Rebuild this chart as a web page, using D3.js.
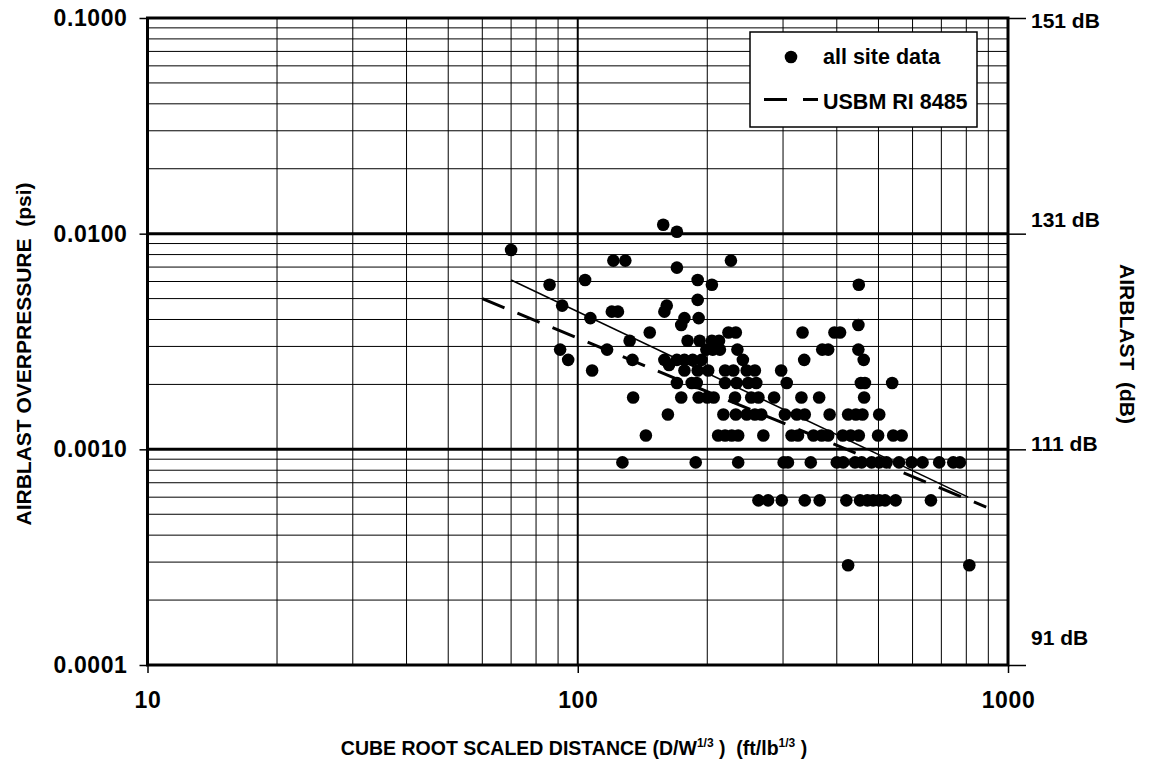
<!DOCTYPE html>
<html>
<head>
<meta charset="utf-8">
<script src="https://cdn.jsdelivr.net/npm/d3@7"></script>
<style>
  html, body { margin: 0; padding: 0; background: #fff; }
  svg text { font-family: "Liberation Sans", Arial, sans-serif; font-weight: bold; fill: #000; white-space: pre; }
</style>
</head>
<body>
<script>
// ---------------- DATA ----------------
// Overpressure levels (psi) and the scaled distances (ft/lb^1/3) of the points at each level
const levelPsi = [0.011, 0.0102, 0.0084, 0.0075, 0.00696, 0.0061, 0.0058, 0.00493, 0.00464, 0.00435,
  0.00406, 0.00377, 0.00348, 0.00319, 0.0029, 0.0026, 0.00246, 0.00232, 0.00203, 0.00174,
  0.00145, 0.00116, 0.00087, 0.00058, 0.00029];
const levelDistances = [
  [158],
  [170],
  [70],
  [121, 129, 227],
  [170],
  [104, 190],
  [86, 205, 450],
  [190],
  [92, 161],
  [120, 124, 159],
  [107, 177, 191],
  [174, 449],
  [147, 224, 233, 333, 395, 407],
  [132, 180, 192, 205, 213],
  [91, 117, 199, 206, 214, 235, 370, 382, 449],
  [95, 134, 159, 170, 177, 185, 194, 242, 336, 462],
  [163],
  [108, 177, 190, 201, 220, 230, 247, 258, 297],
  [170, 184, 189, 220, 234, 249, 260, 306, 455, 465, 538],
  [134.5, 174, 191, 200, 207, 232, 253, 263, 286, 331, 364, 463],
  [162, 218, 233, 247, 258, 267, 303, 323, 337, 385, 425, 443, 459, 502],
  [144, 212, 220, 228, 236, 270, 314, 325, 353, 369, 382, 413, 431, 450, 499, 541, 566],
  [127, 188, 236, 301, 308, 348, 400, 414, 441, 457, 482, 502, 522, 558, 597, 633, 692, 746, 773],
  [263, 277, 298, 337, 365, 421, 453, 471, 486, 502, 518, 548, 662],
  [425, 813]
];
// Site regression line and USBM RI 8485 line (end points)
const siteFitD = [70, 808];
const siteFitP = [0.0061, 0.0006];
const usbmD = [60, 890];
const usbmP = [0.005, 0.00054];

// Axis ticks and labels
const xTicks = [10, 100, 1000];
const xTickLabels = ["10", "100", "1000"];
const yTicks = [0.1, 0.01, 0.001, 0.0001];
const yTickLabels = ["0.1000", "0.0100", "0.0010", "0.0001"];
const dbLabels = ["151 dB", "131 dB", "111 dB", "91 dB"];
const legendLabels = ["all site data", "USBM RI 8485"];

// ---------------- LAYOUT ----------------
const W = 1149, H = 769;
const L = 147.5, R = 1008, T = 18, B = 665;
const dbNudge = [3, -14, -6, -27]; // vertical offsets of the dB labels from their ticks

const svg = d3.select("body").append("svg").attr("width", W).attr("height", H);

const x = d3.scaleLog().domain([10, 1000]).range([L, R]);
const y = d3.scaleLog().domain([0.0001, 0.1]).range([B, T]);

// minor grid
const grid = svg.append("g");
grid.selectAll("line.vx").data(x.ticks().filter(d => d > 10 && d < 1000 && d !== 100))
  .join("line").attr("x1", d => x(d)).attr("x2", d => x(d)).attr("y1", T).attr("y2", B)
  .attr("stroke", "#000").attr("stroke-width", 1);
grid.selectAll("line.hy").data(y.ticks().filter(d => yTicks.indexOf(d) < 0 && d > 0.0001 && d < 0.1))
  .join("line").attr("x1", L).attr("x2", R).attr("y1", d => y(d)).attr("y2", d => y(d))
  .attr("stroke", "#000").attr("stroke-width", 1);
// major grid
grid.append("line").attr("x1", x(100)).attr("x2", x(100)).attr("y1", T).attr("y2", B)
  .attr("stroke", "#000").attr("stroke-width", 2);
grid.selectAll("line.major").data([0.01, 0.001]).join("line")
  .attr("x1", L).attr("x2", R).attr("y1", d => y(d)).attr("y2", d => y(d))
  .attr("stroke", "#000").attr("stroke-width", 3);

// data points
const pts = [];
levelPsi.forEach((p, i) => levelDistances[i].forEach(d => pts.push([d, p])));
svg.append("g").selectAll("circle").data(pts).join("circle")
  .attr("cx", d => x(d[0])).attr("cy", d => y(d[1])).attr("r", 6.3).attr("fill", "#000");

// fit lines
const line = d3.line().x(d => x(d[0])).y(d => y(d[1]));
svg.append("path").datum(siteFitD.map((d, i) => [d, siteFitP[i]])).attr("d", line)
  .attr("fill", "none").attr("stroke", "#000").attr("stroke-width", 1.5);
svg.append("path").datum(usbmD.map((d, i) => [d, usbmP[i]])).attr("d", line)
  .attr("fill", "none").attr("stroke", "#000").attr("stroke-width", 3).attr("stroke-dasharray", "24,14");

// plot border
svg.append("rect").attr("x", L).attr("y", T).attr("width", R - L).attr("height", B - T)
  .attr("fill", "none").attr("stroke", "#000").attr("stroke-width", 3);

// axes
const axL = svg.append("g").attr("transform", `translate(${L},0)`)
  .call(d3.axisLeft(y).tickValues(yTicks).tickFormat((d, i) => yTickLabels[i]).tickSize(8).tickPadding(12));
const axR = svg.append("g").attr("transform", `translate(${R},0)`)
  .call(d3.axisRight(y).tickValues(yTicks).tickFormat((d, i) => dbLabels[i]).tickSize(18).tickPadding(5));
const axB = svg.append("g").attr("transform", `translate(0,${B})`)
  .call(d3.axisBottom(x).tickValues(xTicks).tickFormat((d, i) => xTickLabels[i]).tickSize(8).tickPadding(19));
[axL, axR, axB].forEach(a => {
  a.attr("font-family", null).attr("font-size", null);
  a.select(".domain").remove();
  a.selectAll(".tick line").attr("stroke", "#000").attr("stroke-width", 1.5);
});
axL.selectAll("text").style("font-size", "23px").attr("letter-spacing", "0.6");
axB.selectAll("text").style("font-size", "23px").attr("letter-spacing", "0.6");
axR.selectAll("text").style("font-size", "21px").attr("transform", (d, i) => `translate(0,${dbNudge[i]})`);

// axis titles
svg.append("text").attr("transform", `translate(31,354) rotate(-90)`).attr("text-anchor", "middle")
  .style("font-size", "21px").text("AIRBLAST OVERPRESSURE  (psi)");
svg.append("text").attr("transform", `translate(1120,344) rotate(90)`).attr("text-anchor", "middle")
  .style("font-size", "21px").text("AIRBLAST  (dB)");
const xt = svg.append("text").attr("x", 574).attr("y", 755).attr("text-anchor", "middle").style("font-size", "19.5px");
xt.append("tspan").text("CUBE ROOT SCALED DISTANCE (D/W");
xt.append("tspan").attr("dy", -8).style("font-size", "12px").text("1/3");
xt.append("tspan").attr("dy", 8).text(" )  (ft/lb");
xt.append("tspan").attr("dy", -8).style("font-size", "12px").text("1/3");
xt.append("tspan").attr("dy", 8).text(" )");

// legend
const lg = svg.append("g");
lg.append("rect").attr("x", 750).attr("y", 32).attr("width", 227).attr("height", 95)
  .attr("fill", "#fff").attr("stroke", "#000").attr("stroke-width", 1.5);
lg.append("circle").attr("cx", 791).attr("cy", 57).attr("r", 6.3).attr("fill", "#000");
lg.append("line").attr("x1", 764).attr("x2", 818).attr("y1", 99.5).attr("y2", 99.5)
  .attr("stroke", "#000").attr("stroke-width", 3).attr("stroke-dasharray", "23,16");
lg.append("text").attr("x", 823).attr("y", 63.5).style("font-size", "21.5px").text(legendLabels[0]);
lg.append("text").attr("x", 823).attr("y", 108.5).style("font-size", "21.5px").text(legendLabels[1]);
</script>
</body>
</html>
